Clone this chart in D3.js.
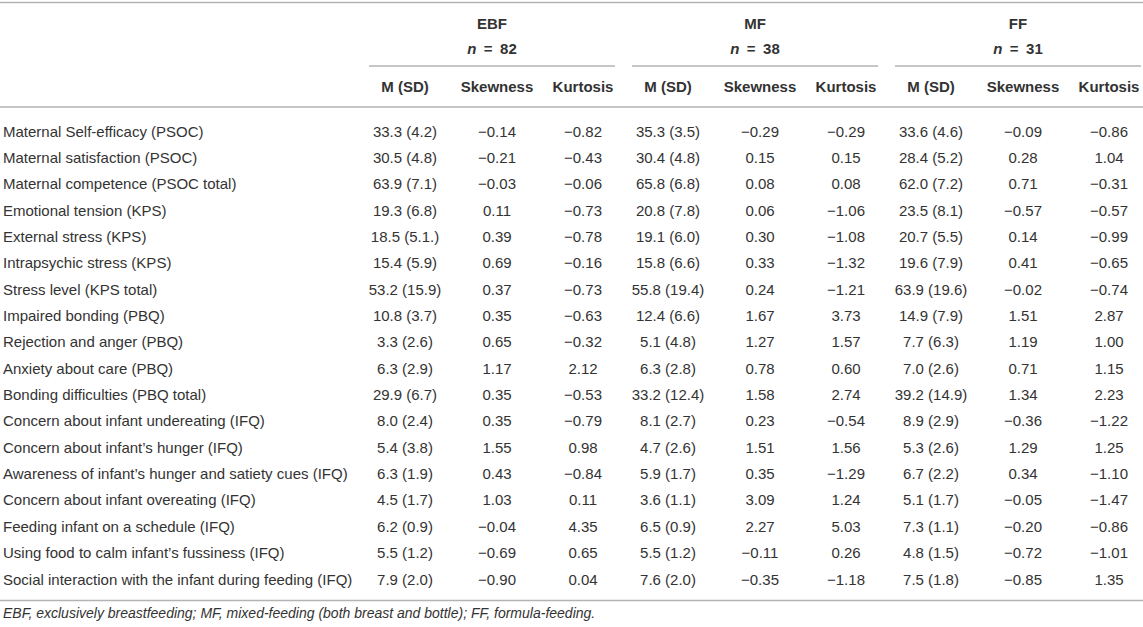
<!DOCTYPE html>
<html>
<head>
<meta charset="utf-8">
<script src="https://cdn.jsdelivr.net/npm/d3@7"></script>
<style>
  body { margin: 0; background: #fff; }
  text { font-family: "Liberation Sans", Arial, sans-serif; fill: #333; }
</style>
</head>
<body>
<div id="table"></div>
<script>
const width = 1143;
const height = 627;

// row labels
const measures = [
  "Maternal Self-efficacy (PSOC)",
  "Maternal satisfaction (PSOC)",
  "Maternal competence (PSOC total)",
  "Emotional tension (KPS)",
  "External stress (KPS)",
  "Intrapsychic stress (KPS)",
  "Stress level (KPS total)",
  "Impaired bonding (PBQ)",
  "Rejection and anger (PBQ)",
  "Anxiety about care (PBQ)",
  "Bonding difficulties (PBQ total)",
  "Concern about infant undereating (IFQ)",
  "Concern about infant\u2019s hunger (IFQ)",
  "Awareness of infant\u2019s hunger and satiety cues (IFQ)",
  "Concern about infant overeating (IFQ)",
  "Feeding infant on a schedule (IFQ)",
  "Using food to calm infant\u2019s fussiness (IFQ)",
  "Social interaction with the infant during feeding (IFQ)"
];

const groups = ["EBF", "MF", "FF"];
const groupN = [82, 38, 31];
const columns = ["M (SD)", "Skewness", "Kurtosis"];

// EBF
const ebfMSD = ["33.3 (4.2)", "30.5 (4.8)", "63.9 (7.1)", "19.3 (6.8)", "18.5 (5.1.)", "15.4 (5.9)", "53.2 (15.9)", "10.8 (3.7)", "3.3 (2.6)", "6.3 (2.9)", "29.9 (6.7)", "8.0 (2.4)", "5.4 (3.8)", "6.3 (1.9)", "4.5 (1.7)", "6.2 (0.9)", "5.5 (1.2)", "7.9 (2.0)"];
const ebfSkew = [-0.14, -0.21, -0.03, 0.11, 0.39, 0.69, 0.37, 0.35, 0.65, 1.17, 0.35, 0.35, 1.55, 0.43, 1.03, -0.04, -0.69, -0.90];
const ebfKurt = [-0.82, -0.43, -0.06, -0.73, -0.78, -0.16, -0.73, -0.63, -0.32, 2.12, -0.53, -0.79, 0.98, -0.84, 0.11, 4.35, 0.65, 0.04];

// MF
const mfMSD = ["35.3 (3.5)", "30.4 (4.8)", "65.8 (6.8)", "20.8 (7.8)", "19.1 (6.0)", "15.8 (6.6)", "55.8 (19.4)", "12.4 (6.6)", "5.1 (4.8)", "6.3 (2.8)", "33.2 (12.4)", "8.1 (2.7)", "4.7 (2.6)", "5.9 (1.7)", "3.6 (1.1)", "6.5 (0.9)", "5.5 (1.2)", "7.6 (2.0)"];
const mfSkew = [-0.29, 0.15, 0.08, 0.06, 0.30, 0.33, 0.24, 1.67, 1.27, 0.78, 1.58, 0.23, 1.51, 0.35, 3.09, 2.27, -0.11, -0.35];
const mfKurt = [-0.29, 0.15, 0.08, -1.06, -1.08, -1.32, -1.21, 3.73, 1.57, 0.60, 2.74, -0.54, 1.56, -1.29, 1.24, 5.03, 0.26, -1.18];

// FF
const ffMSD = ["33.6 (4.6)", "28.4 (5.2)", "62.0 (7.2)", "23.5 (8.1)", "20.7 (5.5)", "19.6 (7.9)", "63.9 (19.6)", "14.9 (7.9)", "7.7 (6.3)", "7.0 (2.6)", "39.2 (14.9)", "8.9 (2.9)", "5.3 (2.6)", "6.7 (2.2)", "5.1 (1.7)", "7.3 (1.1)", "4.8 (1.5)", "7.5 (1.8)"];
const ffSkew = [-0.09, 0.28, 0.71, -0.57, 0.14, 0.41, -0.02, 1.51, 1.19, 0.71, 1.34, -0.36, 1.29, 0.34, -0.05, -0.20, -0.72, -0.85];
const ffKurt = [-0.86, 1.04, -0.31, -0.57, -0.99, -0.65, -0.74, 2.87, 1.00, 1.15, 2.23, -1.22, 1.25, -1.10, -1.47, -0.86, -1.01, 1.35];

const footnote = "EBF, exclusively breastfeeding; MF, mixed-feeding (both breast and bottle); FF, formula-feeding.";

// cellen per groep
const groupData = [
  [ebfMSD, ebfSkew, ebfKurt],
  [mfMSD, mfSkew, mfKurt],
  [ffMSD, ffSkew, ffKurt]
];

const fmt = (v) => typeof v === "string" ? v : d3.format(".2f")(v).replace("-", "\u2212");

const svg = d3.select("#table").append("svg")
  .attr("width", width)
  .attr("height", height);

// schalen
const yRow = d3.scalePoint().domain(measures).range([131, 579]);
const xGroup = d3.scaleBand().domain(groups).range([369, 1158]);
const xCol = d3.scaleOrdinal().domain(columns).range([36, 128, 214]);

const lineColor = "#b3b3b3";
const fs = 15;

// horizontale lijnen
svg.append("g")
  .selectAll("line")
  .data([2.5, 107, 600.5])
  .join("line")
    .attr("x1", 0)
    .attr("x2", width)
    .attr("y1", d => d)
    .attr("y2", d => d)
    .attr("stroke", lineColor)
    .attr("stroke-width", 1.5);

// groepskoppen
const head = svg.append("g").selectAll("g")
  .data(groups)
  .join("g")
    .attr("transform", d => `translate(${xGroup(d)}, 0)`);

head.append("text")
  .attr("x", 123)
  .attr("y", 28.5)
  .attr("text-anchor", "middle")
  .attr("font-size", fs)
  .attr("font-weight", "bold")
  .text(d => d);

head.append("text")
  .attr("x", 123)
  .attr("y", 54)
  .attr("text-anchor", "middle")
  .attr("font-size", fs)
  .attr("font-weight", "bold")
  .html((d, i) => `<tspan font-style="italic">n</tspan>\u2002=\u2002${groupN[i]}`);

head.append("line")
  .attr("x1", 0)
  .attr("x2", 246)
  .attr("y1", 66)
  .attr("y2", 66)
  .attr("stroke", lineColor)
  .attr("stroke-width", 1.5);

head.selectAll(".colhead")
  .data(columns)
  .join("text")
    .attr("class", "colhead")
    .attr("x", d => xCol(d))
    .attr("y", 91.5)
    .attr("text-anchor", "middle")
    .attr("font-size", fs)
    .attr("font-weight", "bold")
    .text(d => d);

// rijlabels
svg.append("g")
  .selectAll("text")
  .data(measures)
  .join("text")
    .attr("x", 3)
    .attr("y", d => yRow(d) + 5.5)
    .attr("font-size", fs)
    .text(d => d);

// cellen
groups.forEach((g, gi) => {
  columns.forEach((c, ci) => {
    svg.append("g")
      .selectAll("text")
      .data(groupData[gi][ci])
      .join("text")
        .attr("x", xGroup(g) + xCol(c))
        .attr("y", (d, i) => yRow(measures[i]) + 5.5)
        .attr("text-anchor", "middle")
        .attr("font-size", fs)
        .text(d => fmt(d));
  });
});

svg.append("text")
  .attr("x", 3)
  .attr("y", 618)
  .attr("font-size", 14)
  .attr("font-style", "italic")
  .text(footnote);
</script>
</body>
</html>
